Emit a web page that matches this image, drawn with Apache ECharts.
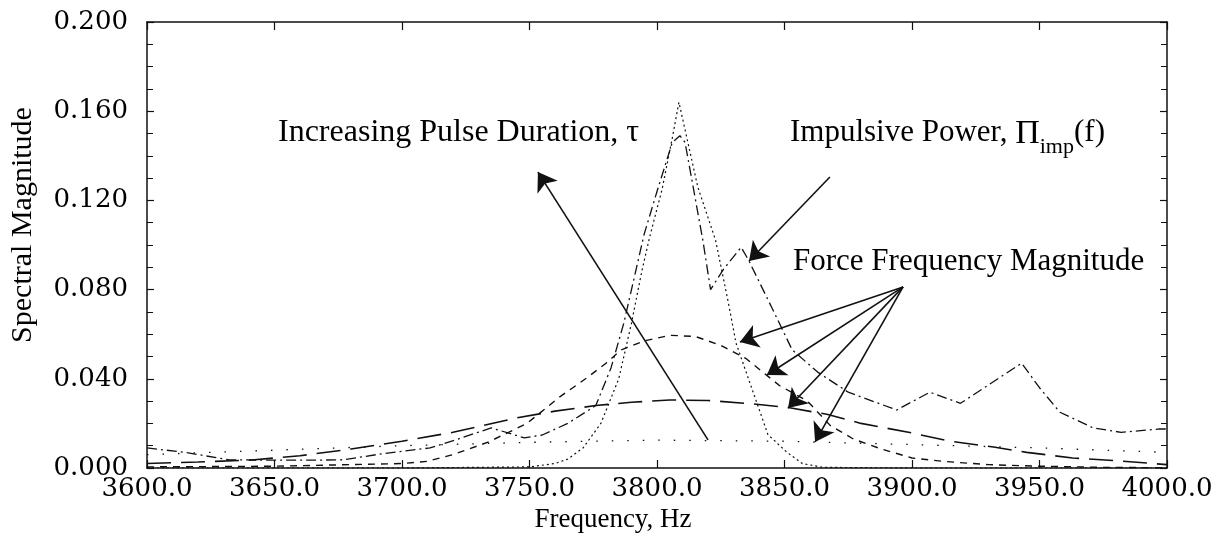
<!DOCTYPE html>
<html>
<head>
<meta charset="utf-8">
<script src="https://cdn.jsdelivr.net/npm/echarts@6/dist/echarts.min.js"></script>
<style>
  html, body { margin: 0; padding: 0; background: #fff; }
  #chart { width: 1224px; height: 553px; }
</style>
</head>
<body>
<div id="chart"></div>
<script>
// Axis ranges and ticks
const xMin = 3600, xMax = 4000, xStep = 50;
const yMin = 0, yMax = 0.2, yStep = 0.04;

// Force spectrum, shortest pulse (very broad, low)
const freqFlat = [3600, 3650, 3700, 3750, 3800, 3850, 3900, 3950, 4000];
const magFlat  = [0.006, 0.008, 0.010, 0.0115, 0.0125, 0.012, 0.0105, 0.009, 0.007];

// Force spectrum, short pulse (long dashes)
const freqLong = [3600, 3620, 3640, 3660, 3680, 3700, 3720, 3745, 3760, 3776, 3790, 3805, 3820, 3838, 3852, 3867, 3880, 3900, 3915, 3932, 3945, 3963, 3980, 4000];
const magLong  = [0.002, 0.0027, 0.0035, 0.0055, 0.0085, 0.012, 0.016, 0.0225, 0.0255, 0.028, 0.0295, 0.0305, 0.0303, 0.0287, 0.027, 0.024, 0.020, 0.0157, 0.012, 0.0094, 0.007, 0.0045, 0.0033, 0.0015];

// Force spectrum, medium pulse (short dashes)
const freqMid = [3600, 3650, 3700, 3710, 3720, 3734, 3749, 3762, 3772, 3780, 3786, 3795, 3805, 3815, 3825, 3835, 3848, 3859, 3868, 3877, 3888, 3900, 3912, 3930, 3950, 3975, 4000];
const magMid  = [0.0005, 0.0008, 0.002, 0.003, 0.006, 0.0117, 0.020, 0.032, 0.040, 0.047, 0.053, 0.057, 0.0595, 0.059, 0.055, 0.049, 0.037, 0.030, 0.019, 0.013, 0.0085, 0.0045, 0.003, 0.0015, 0.0008, 0.0003, 0.0001];

// Force spectrum, long pulse (narrow peak, dotted)
const freqNarrow = [3600, 3700, 3750, 3760, 3765, 3771, 3778, 3785, 3790, 3794, 3797, 3802, 3806, 3808.6, 3816, 3823, 3828, 3831, 3838, 3843.5, 3851, 3857, 3865, 3900, 4000];
const magNarrow  = [0, 0, 0.0005, 0.002, 0.004, 0.009, 0.02, 0.04, 0.065, 0.088, 0.103, 0.125, 0.148, 0.164, 0.126, 0.102, 0.074, 0.056, 0.033, 0.015, 0.007, 0.002, 0.0003, 0, 0];

// Impulsive power
const freqImp = [3600, 3615, 3632, 3650, 3665, 3677, 3690, 3700, 3711, 3722, 3735, 3748, 3755, 3765, 3776, 3782, 3787, 3791, 3795, 3800, 3806, 3809, 3811, 3818, 3821, 3826, 3833, 3836, 3845, 3853, 3863, 3875, 3894, 3907, 3919, 3943, 3950, 3958, 3971, 3982, 3997, 4000];
const magImp  = [0.009, 0.007, 0.0037, 0.0035, 0.0035, 0.0037, 0.006, 0.0075, 0.009, 0.013, 0.018, 0.0135, 0.0148, 0.020, 0.028, 0.045, 0.065, 0.085, 0.105, 0.124, 0.146, 0.149, 0.146, 0.102, 0.080, 0.089, 0.099, 0.093, 0.072, 0.053, 0.043, 0.034, 0.026, 0.034, 0.029, 0.047, 0.036, 0.025, 0.018, 0.016, 0.0175, 0.0175];

// Annotation arrows in data coordinates: [fromFreq, fromMag, toFreq, toMag]
const arrowPulse = [3820.0, 0.0126, 3753.3, 0.1327];
const arrowImp = [3867.8, 0.1305, 3836.1, 0.0928];
const forceOrigin = [3896.5, 0.0812];
const forceTips = [[3832.5, 0.0565], [3843.1, 0.0417], [3851.4, 0.0269], [3862.0, 0.0117]];

const pairs = (f, m) => f.map((x, i) => [x, m[i]]);

const ink = '#111';
const serif = '"Liberation Serif", "Times New Roman", serif';

function lineSeries(name, f, m, dash, width) {
  return {
    name, type: 'line', data: pairs(f, m),
    showSymbol: false, smooth: false, silent: true,
    lineStyle: { color: ink, width: width || 1.3, type: dash },
    emphasis: { disabled: true }
  };
}

const arrowLines = [[{ coord: [arrowPulse[0], arrowPulse[1]] }, { coord: [arrowPulse[2], arrowPulse[3]] }],
                    [{ coord: [arrowImp[0], arrowImp[1]] }, { coord: [arrowImp[2], arrowImp[3]] }]]
  .concat(forceTips.map(t => [{ coord: forceOrigin }, { coord: t }]));

const chart = echarts.init(document.getElementById('chart'));
chart.setOption({
  animation: false,
  backgroundColor: '#fff',
  grid: { left: 147, right: 57, top: 22, bottom: 85 },
  xAxis: [{
    type: 'value', min: xMin, max: xMax, interval: xStep, position: 'bottom',
    axisLine: { show: true, onZero: false, lineStyle: { color: ink, width: 1.5 } },
    axisTick: { show: true, inside: true, length: 8, lineStyle: { color: ink, width: 1.2 } },
    axisLabel: { color: '#000', fontFamily: '"DejaVu Serif", serif', fontSize: 26, margin: 8,
                 formatter: v => v.toFixed(1) },
    splitLine: { show: false }
  }, {
    type: 'value', min: xMin, max: xMax, interval: xStep, position: 'top',
    axisLine: { show: true, onZero: false, lineStyle: { color: ink, width: 1.5 } },
    axisTick: { show: true, inside: true, length: 8, lineStyle: { color: ink, width: 1.2 } },
    axisLabel: { show: false }, splitLine: { show: false }
  }],
  yAxis: [{
    type: 'value', min: yMin, max: yMax, interval: yStep, position: 'left',
    axisLine: { show: true, onZero: false, lineStyle: { color: ink, width: 1.5 } },
    axisTick: { show: true, inside: true, length: 7, lineStyle: { color: ink, width: 1.2 } },
    minorTick: { show: true, splitNumber: 4, length: 6, lineStyle: { color: ink, width: 1 } },
    axisLabel: { color: '#000', fontFamily: '"DejaVu Serif", serif', fontSize: 26, margin: 19,
                 formatter: v => v.toFixed(3) },
    splitLine: { show: false }
  }, {
    type: 'value', min: yMin, max: yMax, interval: yStep, position: 'right',
    axisLine: { show: true, onZero: false, lineStyle: { color: ink, width: 1.5 } },
    axisTick: { show: true, inside: true, length: 7, lineStyle: { color: ink, width: 1.2 } },
    minorTick: { show: true, splitNumber: 4, length: 6, lineStyle: { color: ink, width: 1 } },
    axisLabel: { show: false }, splitLine: { show: false }
  }],
  series: [
    lineSeries('Force, shortest pulse', freqFlat, magFlat, [1.5, 14], 1.3),
    lineSeries('Force, short pulse', freqLong, magLong, [24, 10], 1.6),
    lineSeries('Force, medium pulse', freqMid, magMid, [7, 6], 1.4),
    lineSeries('Force, long pulse', freqNarrow, magNarrow, [2, 3], 1.2),
    lineSeries('Impulsive Power', freqImp, magImp, [10, 4, 2, 4], 1.3),
    {
      name: 'annotations', type: 'line', data: [], silent: true,
      markLine: {
        silent: true, animation: false,
        symbol: ['none', 'arrow'], symbolSize: 18,
        label: { show: false },
        lineStyle: { color: ink, width: 1.6, type: 'solid' },
        emphasis: { disabled: true },
        data: arrowLines
      }
    }
  ],
  graphic: [
    { type: 'text', x: 278, y: 133, silent: true,
      style: { text: 'Increasing Pulse Duration, τ', font: '32px ' + serif, fill: '#000',
               textAlign: 'left', textVerticalAlign: 'middle' } },
    // main text sits at the top of a tall line; the subscript is centred lower in it
    { type: 'text', x: 790, y: 117, silent: true,
      style: { text: '{a|Impulsive Power, }{p|Π}{s|imp}{a|(f)}', textAlign: 'left', textVerticalAlign: 'top',
               rich: {
                 a: { fontFamily: serif, fontSize: 31, lineHeight: 32, verticalAlign: 'top', fill: '#000' },
                 p: { fontFamily: serif, fontSize: 34, lineHeight: 32, verticalAlign: 'top', fill: '#000' },
                 s: { fontFamily: serif, fontSize: 22, lineHeight: 60, verticalAlign: 'middle', fill: '#000' }
               } } },
    { type: 'text', x: 793, y: 262, silent: true,
      style: { text: 'Force Frequency Magnitude', font: '31px ' + serif, fill: '#000',
               textAlign: 'left', textVerticalAlign: 'middle' } },
    { type: 'text', x: 613, y: 520, silent: true,
      style: { text: 'Frequency, Hz', font: '27px ' + serif, fill: '#000',
               textAlign: 'center', textVerticalAlign: 'middle' } },
    { type: 'text', x: 23, y: 225, rotation: Math.PI / 2, silent: true,
      style: { text: 'Spectral Magnitude', font: '30px ' + serif, fill: '#000',
               textAlign: 'center', textVerticalAlign: 'middle' } }
  ]
});
</script>
</body>
</html>
